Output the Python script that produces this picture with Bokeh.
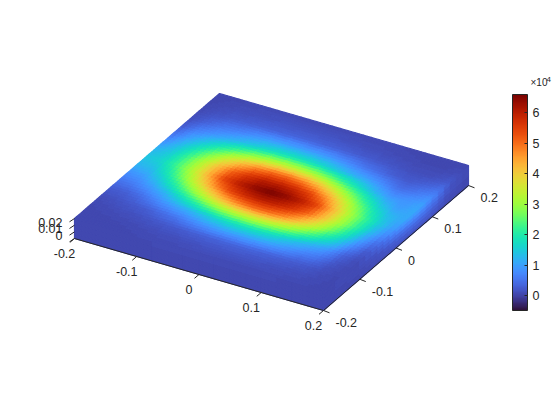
from bokeh.plotting import figure
from bokeh.models import Range1d, ColumnDataSource, LinearColorMapper, ColorBar, FixedTicker
from bokeh.palettes import Turbo256
from bokeh.core.properties import value
from bokeh.embed import file_html
from bokeh.resources import INLINE

# surface grid values (x 1e4); rows y=-0.2..0.2, columns x=-0.2..0.2
grid_x = [-0.2,-0.175,-0.15,-0.125,-0.1,-0.075,-0.05,-0.025,0,0.025,0.05,0.075,0.1,0.125,0.15,0.175,0.2]
grid_y = list(grid_x)
top_values = [
 [.05,.05,.05,.05,.06,.06,.06,.07,.08,.08,.08,.08,.08,.07,.06,.06,.05],
 [.05,.05,.06,.07,.09,.11,.12,.14,.16,.16,.16,.16,.15,.13,.12,.08,.05],
 [.06,.08,.11,.14,.19,.22,.26,.31,.33,.35,.35,.33,.31,.26,.22,.12,.06],
 [.10,.16,.22,.28,.42,.56,.75,.90,.98,1.0,1.0,.95,.80,.62,.50,.20,.07],
 [.25,.28,.42,.70,.95,1.15,1.4,1.65,1.8,1.85,1.8,1.6,1.35,1.1,.85,.35,.10],
 [.50,.60,.85,1.2,1.7,2.2,2.7,3.05,3.25,3.3,3.15,2.85,2.4,1.9,1.4,.70,.20],
 [.80,.95,1.35,2.0,2.75,3.5,4.2,4.7,4.96,4.95,4.7,4.15,3.45,2.65,1.9,1.05,.40],
 [1.2,1.3,1.9,2.75,3.7,4.65,5.4,5.8,5.97,5.9,5.6,5.05,4.15,3.15,2.25,1.35,.70],
 [1.4,1.6,2.3,3.2,4.3,5.4,6.0,6.4,6.6,6.4,6.0,5.4,4.3,3.2,2.3,1.5,.90],
 [1.2,1.5,2.25,3.15,4.15,5.05,5.6,5.95,5.97,5.8,5.4,4.65,3.7,2.75,1.9,1.3,1.05],
 [.80,1.3,1.9,2.65,3.45,4.15,4.7,4.95,4.96,4.7,4.2,3.5,2.75,2.0,1.35,.95,1.1],
 [.45,.95,1.4,1.9,2.4,2.85,3.15,3.3,3.25,3.05,2.7,2.2,1.7,1.2,.85,.85,1.0],
 [.20,.60,.85,1.1,1.35,1.6,1.8,1.85,1.8,1.65,1.4,1.15,.95,.70,.42,.55,.75],
 [.10,.30,.50,.62,.80,.95,1.0,1.0,.98,.90,.75,.56,.42,.28,.22,.30,.45],
 [.07,.15,.22,.26,.31,.33,.35,.35,.33,.31,.26,.22,.19,.14,.11,.12,.20],
 [.05,.08,.12,.13,.15,.16,.16,.16,.16,.14,.12,.11,.09,.07,.06,.06,.08],
 [.05,.05,.06,.07,.08,.08,.08,.08,.08,.07,.06,.06,.06,.05,.05,.05,.05],
]
# side walls: rows z = 0, 0.015, 0.03
wall_z = [0, 0.015, 0.03]
wall_pos = [-0.2,-0.1,-0.05,0,0.05,0.1,0.15,0.2]
right_wall = [
 [.04,.05,.06,.10,.12,.10,.06,.04],
 [.05,.08,.15,.35,.45,.35,.12,.05],
 [.05,.10,.40,.90,1.1,.75,.20,.05],
]
front_wall = [
 [.05,.05,.05,.05,.05,.05,.05,.05],
 [.05,.05,.05,.05,.05,.05,.05,.05],
 [.05,.06,.07,.08,.08,.07,.06,.05],
]
x_ticks = [-0.2,-0.1,0,0.1,0.2]
y_ticks = [-0.2,-0.1,0,0.1,0.2]
z_ticks = [0,0.01,0.02,0.03]
x_labels = ["-0.2","-0.1","0","0.1","0.2"]
y_labels = ["-0.2","-0.1","0","0.1","0.2"]
z_labels = ["0","0.01","0.02",""]
cbar_ticks = [0,1,2,3,4,5,6]
c_low, c_high = -0.49, 6.59
ZMAX = 0.03
INK = "#262626"
FONT = "Liberation Sans"
FS = "12.5px"

def proj(x, y, z=0.0):
    a, b = (x+0.2)/0.4, (y+0.2)/0.4
    return (74+249*a+145*b, 238+72*a-125*b-20*z/ZMAX)

p = figure(width=556, height=416, x_range=Range1d(0,556), y_range=Range1d(416,0),
           output_backend="svg", toolbar_location=None, min_border=0, outline_line_color=None)
p.xaxis.visible = False
p.yaxis.visible = False
p.grid.visible = False
p.background_fill_color = None
p.border_fill_color = None

mapper = LinearColorMapper(palette=Turbo256, low=c_low, high=c_high)

def add_cells(us, vs, vals, fn, sub):
    xs, ys, cs = [], [], []
    for j in range(len(vs)-1):
        for i in range(len(us)-1):
            for n in range(sub):
                for m in range(sub):
                    def corner(s, t):
                        f = (m+s)/sub; g = (n+t)/sub
                        return fn(us[i]+(us[i+1]-us[i])*f, vs[j]+(vs[j+1]-vs[j])*g)
                    pts = [corner(0,0), corner(1,0), corner(1,1), corner(0,1)]
                    xs.append([q[0] for q in pts]); ys.append([q[1] for q in pts])
                    f = (m+.5)/sub; g = (n+.5)/sub
                    cs.append((vals[j][i]*(1-f)+vals[j][i+1]*f)*(1-g)+(vals[j+1][i]*(1-f)+vals[j+1][i+1]*f)*g)
    src = ColumnDataSource(dict(xs=xs, ys=ys, c=cs))
    p.patches("xs","ys",source=src,fill_color=dict(field="c",transform=mapper),
              line_color=dict(field="c",transform=mapper),line_width=1.2)

add_cells(wall_pos, wall_z, front_wall, lambda u,z: proj(u,-0.2,z), 2)
add_cells(wall_pos, wall_z, right_wall, lambda u,z: proj(0.2,u,z), 3)
add_cells(grid_x, grid_y, top_values, lambda u,v: proj(u,v,ZMAX), 4)

def seg(x0,y0,x1,y1):
    p.segment([x0],[y0],[x1],[y1],line_color=INK,line_width=1)

a0=proj(-0.2,-0.2); a1=proj(0.2,-0.2); a2=proj(0.2,0.2)
seg(a0[0],a0[1],a1[0],a1[1]); seg(a1[0],a1[1],a2[0],a2[1])
for t,l in zip(x_ticks,x_labels):
    q=proj(t,-0.2); seg(q[0],q[1],q[0]-4.5,q[1]+3.8)
    p.text([q[0]-10],[q[1]+15],text=[l],text_align="center",text_baseline="middle",
           text_font=value(FONT),text_font_size=FS,text_color=INK)
for t,l in zip(y_ticks,y_labels):
    q=proj(0.2,t); seg(q[0],q[1],q[0]+6,q[1]+2.3)
    p.text([q[0]+12],[q[1]+12],text=[l],text_align="left",text_baseline="middle",
           text_font=value(FONT),text_font_size=FS,text_color=INK)
for t,l in zip(z_ticks,z_labels):
    q=proj(-0.2,-0.2,t); seg(q[0],q[1],q[0]-5,q[1]+3.3)
    if l:
        p.text([q[0]-12],[q[1]-3],text=[l],text_align="right",text_baseline="middle",
               text_font=value(FONT),text_font_size=FS,text_color=INK)

bar = ColorBar(color_mapper=mapper, ticker=FixedTicker(ticks=cbar_ticks), width=15, height=216,
               location=(512,106), padding=0, margin=0, background_fill_color=None,
               bar_line_color=INK, major_tick_line_color=INK, major_tick_in=3, major_tick_out=0,
               minor_tick_line_color=None, label_standoff=5,
               major_label_text_font=FONT, major_label_text_font_size=FS,
               major_label_text_color=INK)
p.add_layout(bar)
p.text([530],[82],text=["×10"],text_font=value(FONT),text_font_size="10px",text_color=INK,
       text_align="left",text_baseline="middle")
p.text([546],[79],text=["4"],text_font=value(FONT),text_font_size="8px",text_color=INK,
       text_align="left",text_baseline="middle")

open("out.html","w").write(file_html(p, INLINE))
